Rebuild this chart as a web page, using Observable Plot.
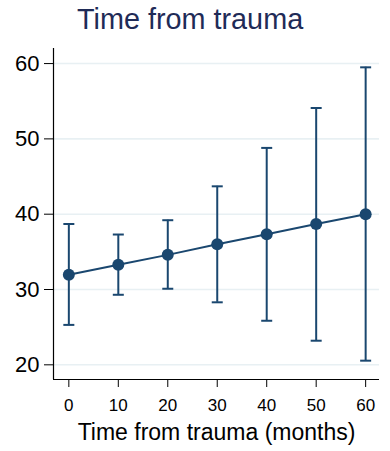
<!DOCTYPE html>
<html>
<head>
<meta charset="utf-8">
<script src="https://cdn.jsdelivr.net/npm/d3@7"></script>
<script src="https://cdn.jsdelivr.net/npm/@observablehq/plot@0.6"></script>
<style>
  html, body { margin: 0; padding: 0; background: #fff; }
  body { width: 390px; height: 451px; overflow: hidden; font-family: "Liberation Sans", Arial, sans-serif; }
  #title { height: 40px; position: relative; }
  #title span { position: absolute; left: 77px; top: 5px; font-size: 28.8px; color: #1f2b57; line-height: 1; }
  svg { display: block; }
</style>
</head>
<body>
<div id="title"><span>Time from trauma</span></div>
<div id="chart"></div>
<script>
const months = [0, 10, 20, 30, 40, 50, 60];
const estimate = [31.95, 33.3, 34.6, 36.0, 37.35, 38.7, 40.0];
const lower = [25.3, 29.3, 30.1, 28.3, 25.85, 23.2, 20.55];
const upper = [38.7, 37.3, 39.2, 43.7, 48.8, 54.1, 59.5];
const yTicks = [20, 30, 40, 50, 60];
const xTicks = [0, 10, 20, 30, 40, 50, 60];
const xLabel = "Time from trauma (months)";

const data = months.map((m, i) => ({x: m, y: estimate[i], lo: lower[i], hi: upper[i]}));
const color = "#1a476f";
const xDomain = [-3.1, 62.8];
const yDomain = [18.05, 62];

const capSymbol = {
  draw(context) {
    context.moveTo(-5.5, 0);
    context.lineTo(5.5, 0);
  }
};

const chart = Plot.plot({
  width: 390,
  height: 411,
  marginLeft: 53,
  marginRight: 11,
  marginTop: 8,
  marginBottom: 72,
  style: {fontFamily: "'Liberation Sans', Arial, sans-serif", color: "#000", background: "#fff"},
  x: {domain: xDomain},
  y: {domain: yDomain},
  marks: [
    Plot.gridY(yTicks, {stroke: "#e8f0f3", strokeOpacity: 1, strokeWidth: 1.6}),
    Plot.ruleX([xDomain[0]], {stroke: "#000", strokeWidth: 1.2}),
    Plot.ruleY([yDomain[0]], {stroke: "#000", strokeWidth: 1.2}),
    Plot.axisY(yTicks, {tickSize: 9, tickPadding: 5, fontSize: 22, label: null, stroke: "#000", fill: "#000"}),
    Plot.axisX(xTicks, {tickSize: 8, tickPadding: 11, fontSize: 17, label: null, stroke: "#000", fill: "#000"}),
    Plot.ruleX(data, {x: "x", y1: "lo", y2: "hi", stroke: color, strokeWidth: 2}),
    Plot.dot(data, {x: "x", y: "lo", symbol: capSymbol, r: 5, stroke: color, strokeWidth: 2, fill: "none"}),
    Plot.dot(data, {x: "x", y: "hi", symbol: capSymbol, r: 5, stroke: color, strokeWidth: 2, fill: "none"}),
    Plot.line(data, {x: "x", y: "y", stroke: color, strokeWidth: 2}),
    Plot.dot(data, {x: "x", y: "y", r: 6, fill: color, stroke: "none"}),
    Plot.text([xLabel], {frameAnchor: "bottom", lineAnchor: "middle", dy: 53, fontSize: 23, fill: "#000"})
  ]
});
document.getElementById("chart").appendChild(chart);
</script>
</body>
</html>
